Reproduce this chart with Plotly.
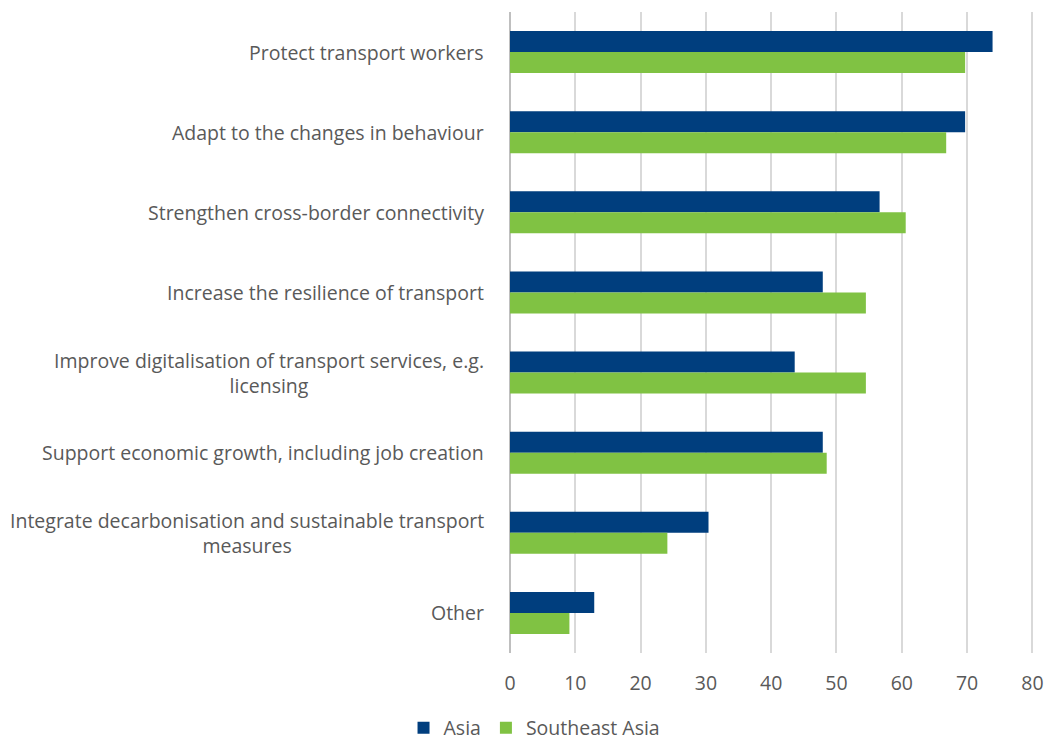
import plotly.graph_objects as go

categories = [
    "Protect transport workers",
    "Adapt to the changes in behaviour",
    "Strengthen cross-border connectivity",
    "Increase the resilience of transport",
    "Improve digitalisation of transport services, e.g.<br>licensing",
    "Support economic growth, including job creation",
    "Integrate decarbonisation and sustainable transport<br>measures",
    "Other",
]
asia = [73.9, 69.7, 56.6, 47.9, 43.6, 47.9, 30.4, 12.9]
southeast_asia = [69.7, 66.8, 60.6, 54.5, 54.5, 48.5, 24.1, 9.1]
x_ticks = [0, 10, 20, 30, 40, 50, 60, 70, 80]

FONT = "Open Sans"
GREY = "#595959"
FS = 19.5

fig = go.Figure()
fig.add_trace(go.Bar(y=categories, x=asia, name="Asia", orientation="h",
                     marker=dict(color="#003E7E", line=dict(width=0))))
fig.add_trace(go.Bar(y=categories, x=southeast_asia, name="Southeast Asia", orientation="h",
                     marker=dict(color="#80C243", line=dict(width=0))))

for c in categories:
    fig.add_annotation(text=c, xref="paper", x=0, y=c, yref="y", xanchor="right",
                       xshift=-24, align="center", showarrow=False,
                       font=dict(family=FONT, size=FS, color=GREY))

fig.update_layout(
    width=1044, height=740,
    margin=dict(l=510, r=9, t=12, b=87, autoexpand=False),
    paper_bgcolor="white", plot_bgcolor="white",
    barmode="group", bargap=0.475, bargroupgap=0,
    font=dict(family=FONT, size=FS, color=GREY),
    showlegend=True,
    legend=dict(orientation="h", xref="container", yref="container",
                x=0.512, y=0.016, xanchor="center", yanchor="middle",
                font=dict(family=FONT, size=FS, color=GREY), itemwidth=30,
                traceorder="normal"),
    xaxis=dict(range=[0, 80.4], tickvals=x_ticks, showgrid=True, gridcolor="#D9D9D9",
               gridwidth=1.5, zeroline=True, zerolinecolor="#BFBFBF", zerolinewidth=1.5,
               ticks="", ticklabelstandoff=16, showline=False,
               tickfont=dict(family=FONT, size=FS, color=GREY)),
    yaxis=dict(categoryorder="array", categoryarray=categories, autorange="reversed",
               showticklabels=False, showgrid=False, zeroline=False, showline=False,
               ticks=""),
)

# remove the default page margin so the 1044x740 figure fills the window exactly
fig.write_html("out.html", config={"displayModeBar": False},
               post_script="document.body.style.margin='0';document.body.style.overflow='hidden';")
